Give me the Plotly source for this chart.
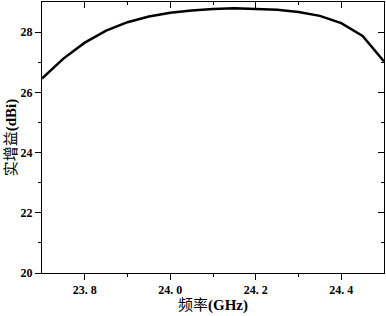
import plotly.graph_objects as go

freq = [23.70, 23.75, 23.80, 23.85, 23.90, 23.95, 24.00, 24.05, 24.10,
        24.15, 24.20, 24.25, 24.30, 24.35, 24.40, 24.45, 24.50]
gain = [26.46, 27.12, 27.65, 28.05, 28.33, 28.52, 28.64, 28.72, 28.77,
        28.79, 28.77, 28.74, 28.67, 28.54, 28.30, 27.87, 27.03]
x_ticks = [23.8, 24.0, 24.2, 24.4]
x_ticklabels = ["23. 8", "24. 0", "24. 2", "24. 4"]
y_ticks = [20, 22, 24, 26, 28]

fam = "Liberation Serif, Noto Sans CJK SC, serif"
xr = [23.7, 24.5]
yr = [20, 29]

fig = go.Figure()
fig.add_trace(go.Scatter(x=freq, y=gain, mode="lines",
                         line=dict(color="black", width=2.5), showlegend=False))
# invisible trace to activate mirror axes
fig.add_trace(go.Scatter(x=[freq[0]], y=[gain[0]], xaxis="x2", yaxis="y2",
                         mode="markers", marker=dict(opacity=0), showlegend=False,
                         hoverinfo="skip"))

tf = dict(family=fam, size=12, color="black", weight="bold")
base = dict(showgrid=False, zeroline=False, showline=True, linecolor="black",
            linewidth=1, tickcolor="black", ticklen=6, tickwidth=1, automargin=False)

fig.update_layout(
    width=386, height=316,
    margin=dict(l=42, r=2, t=2, b=43),
    plot_bgcolor="white", paper_bgcolor="white",
    xaxis=dict(range=xr, tickvals=x_ticks, ticktext=x_ticklabels, ticks="outside",
               tickfont=tf,
               minor=dict(tickvals=[23.9, 24.1, 24.3], ticks="outside", ticklen=3,
                          tickcolor="black"),
               title=dict(text="频率<b>(GHz)</b>",
                          font=dict(family=fam, size=15, color="black"), standoff=0),
               **base),
    yaxis=dict(range=yr, tickvals=y_ticks, ticks="outside", tickfont=tf,
               minor=dict(tickvals=[21, 23, 25, 27], ticks="outside", ticklen=3,
                          tickcolor="black"),
               title=dict(text="实增益<b>(dBi)</b>",
                          font=dict(family=fam, size=15, color="black"), standoff=0),
               **base),
    xaxis2=dict(range=xr, overlaying="x", side="top", tickvals=x_ticks, ticks="inside",
                showticklabels=False,
                minor=dict(tickvals=[23.9, 24.1, 24.3], ticks="inside", ticklen=3,
                           tickcolor="black"),
                **base),
    yaxis2=dict(range=yr, overlaying="y", side="right", tickvals=y_ticks, ticks="inside",
                showticklabels=False,
                minor=dict(tickvals=[21, 23, 25, 27], ticks="inside", ticklen=3,
                           tickcolor="black"),
                **base),
)

fig.write_html("out.html", config={"displayModeBar": False},
               post_script="document.body.style.margin='0';")
